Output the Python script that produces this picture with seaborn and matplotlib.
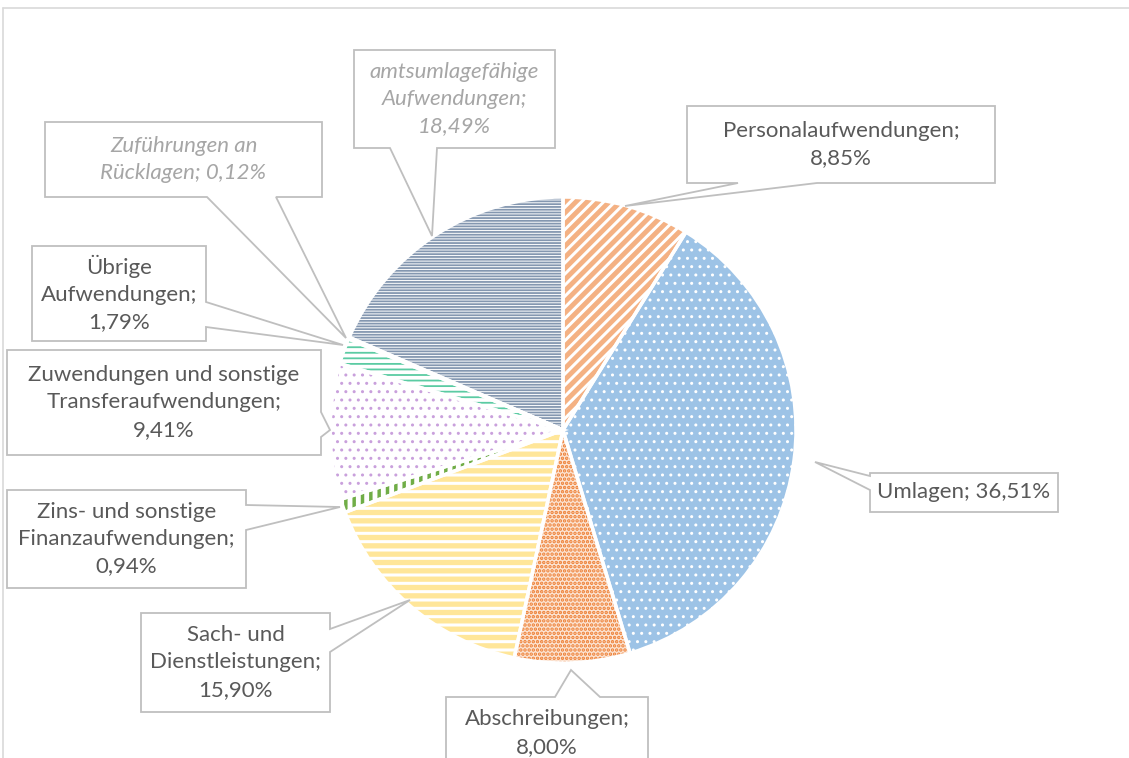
import matplotlib
matplotlib.use("Agg")
import matplotlib.pyplot as plt
import seaborn as sns
from matplotlib.patches import Polygon

sns.set_theme(style="white")
plt.rcParams['font.family'] = ['Lato', 'DejaVu Sans']

# data (clockwise from 12 o'clock)
labels = ["Personalaufwendungen", "Umlagen", "Abschreibungen",
          "Sach- und Dienstleistungen", "Zins- und sonstige Finanzaufwendungen",
          "Zuwendungen und sonstige Transferaufwendungen", "Übrige Aufwendungen",
          "Zuführungen an Rücklagen", "amtsumlagefähige Aufwendungen"]
shares = [8.85, 36.51, 8.00, 15.90, 0.94, 9.41, 1.79, 0.12, 18.49]
label_text = ["Personalaufwendungen;\n8,85%", "Umlagen; 36,51%",
              "Abschreibungen;\n8,00%", "Sach- und\nDienstleistungen;\n15,90%",
              "Zins- und sonstige\nFinanzaufwendungen;\n0,94%",
              "Zuwendungen und sonstige\nTransferaufwendungen;\n9,41%",
              "Übrige\nAufwendungen;\n1,79%", "Zuführungen an\nRücklagen; 0,12%",
              "amtsumlagefähige\nAufwendungen;\n18,49%"]

base_colors = ["white", "#9DC3E6", "#FCE4D3", "white", "white", "white",
               "white", "white", "white"]
hatch_colors = ["#F4B183", "white", "#ED7D31", "#FFE699", "#70AD47", "#C9A0DC",
                "#5BCBA3", "#A9D18E", "#8497B0"]
hatches = ["///", "..", "....", "--", "||", "..", "---", "||", "------"]
hatch_lw = [3.5, 1.0, 1.7, 3.8, 2.5, 1.0, 1.3, 1.5, 1.3]

W, H = 1129, 758
cx, cy, R = 563, 430, 233

fig = plt.figure(figsize=(W / 100, H / 100), dpi=100)
ax = fig.add_axes([0, 0, 1, 1])
ax.set_xlim(0, W)
ax.set_ylim(0, H)
ax.set_aspect("equal")
ax.axis("off")

pie_kw = dict(center=(cx, H - cy), radius=R, startangle=90, counterclock=False)

# base fill
w0, _ = ax.pie(shares, colors=base_colors, wedgeprops=dict(linewidth=0), **pie_kw)
# hatch layer
w1, _ = ax.pie(shares, colors=["none"] * len(shares), **pie_kw)
for w, hc, h, lw in zip(w1, hatch_colors, hatches, hatch_lw):
    w.set_edgecolor(hc)
    w.set_linewidth(0)
    w.set_hatch(h)
    if hasattr(w, "set_hatch_linewidth"):
        w.set_hatch_linewidth(lw)
# white separators
ax.pie(shares, colors=["none"] * len(shares),
       wedgeprops=dict(edgecolor="white", linewidth=2.5), **pie_kw)
ax.set_xlim(0, W)
ax.set_ylim(0, H)

# callouts: box (x0, y0, x1, y1), side of wedge, wedge base (a, b), tip
callouts = [
    ((687, 106, 995, 183), "bottom", (738, 817), (625, 206)),
    ((870, 473, 1058, 512), "left", (476, 490), (815, 462)),
    ((446, 697, 648, 790), "top", (555, 600), (571, 670)),
    ((141, 613, 330, 712), "right", (629, 652), (410, 600)),
    ((7, 490, 246, 588), "right", (505, 530), (340, 507)),
    ((7, 350, 321, 455), "right", (412, 437), (330, 430)),
    ((32, 246, 206, 341), "right", (302, 327), (343, 345)),
    ((45, 122, 322, 197), "bottom", (207, 276), (346, 338)),
    ((354, 50, 555, 148), "bottom", (390, 437), (432, 236)),
]


def outline(box, side, base, tip):
    x0, y0, x1, y1 = box
    a, b = base
    pts = [(x0, y0)]
    if side == "top":
        pts += [(a, y0), tip, (b, y0)]
    pts.append((x1, y0))
    if side == "right":
        pts += [(x1, a), tip, (x1, b)]
    pts.append((x1, y1))
    if side == "bottom":
        pts += [(b, y1), tip, (a, y1)]
    pts.append((x0, y1))
    if side == "left":
        pts += [(x0, b), tip, (x0, a)]
    return [(x, H - y) for x, y in pts]


for i, (box, side, base, tip) in enumerate(callouts):
    poly = Polygon(outline(box, side, base, tip), closed=True, facecolor="white",
                   edgecolor="#BFBFBF", linewidth=1.3, zorder=5)
    ax.add_patch(poly)
    x0, y0, x1, y1 = box
    italic = labels[i] in ("amtsumlagefähige Aufwendungen", "Zuführungen an Rücklagen")
    ty = (y0 + y1) / 2
    if labels[i] == "Abschreibungen":
        ty = 733
    ax.text((x0 + x1) / 2, H - ty, label_text[i], ha="center", va="center",
            fontsize=16, linespacing=1.45, zorder=6,
            color="#A6A6A6" if italic else "#595959",
            style="italic" if italic else "normal")

# chart frame (cropped)
ax.plot([3, W], [H - 8, H - 8], color="#D9D9D9", lw=1.2, zorder=1)
ax.plot([3, 3], [H - 8, 0], color="#D9D9D9", lw=1.2, zorder=1)

fig.savefig("out.png", dpi=100, facecolor="white")
